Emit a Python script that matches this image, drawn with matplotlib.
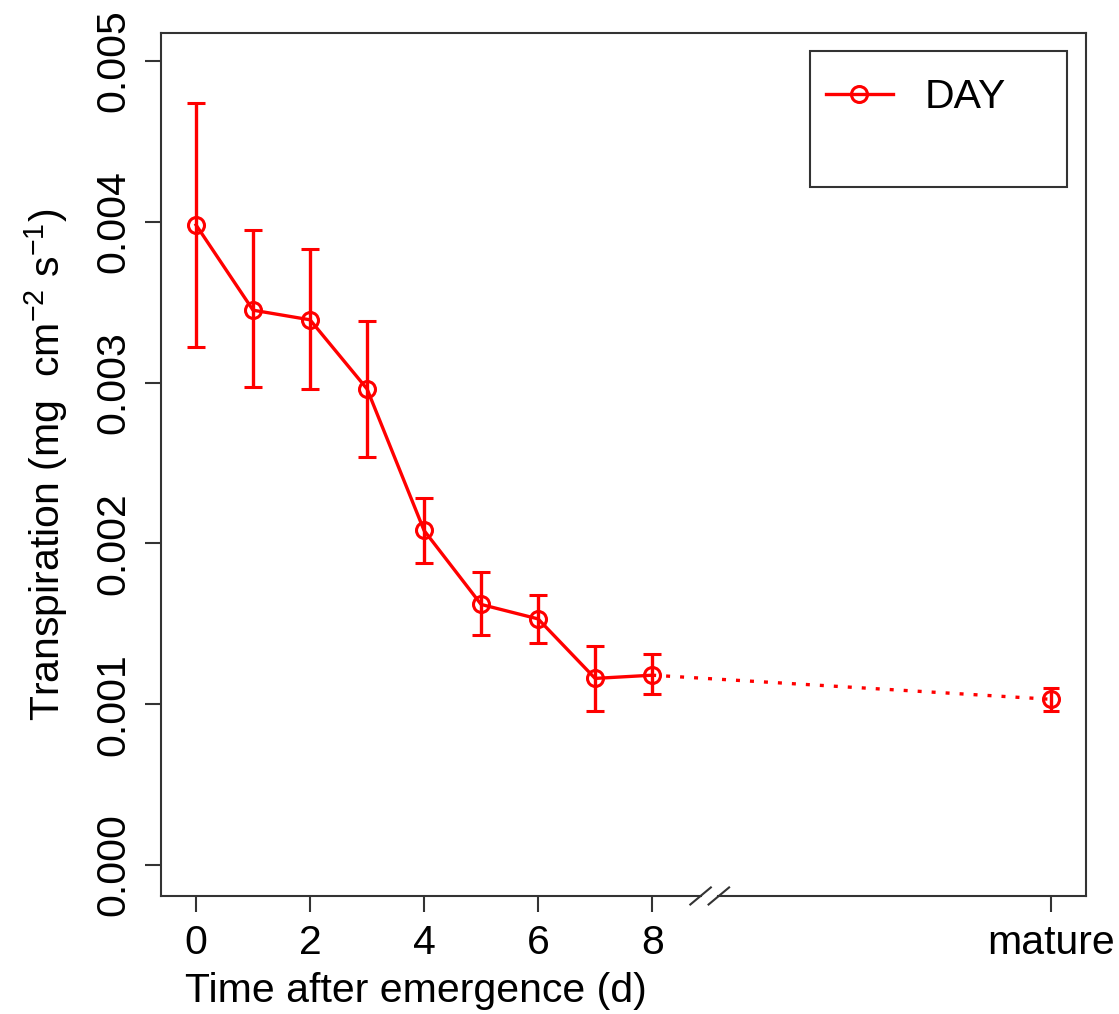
import numpy as np
import matplotlib
matplotlib.use("Agg")
import matplotlib.pyplot as plt
import matplotlib.transforms as mtransforms
from matplotlib.patches import Rectangle
from matplotlib.lines import Line2D

# values
days = [0, 1, 2, 3, 4, 5, 6, 7, 8]
transp = [0.00398, 0.00345, 0.00339, 0.00296, 0.00208, 0.00162, 0.00153, 0.00116, 0.00118]
err_top = [0.00474, 0.00395, 0.00383, 0.00338, 0.00228, 0.00182, 0.00168, 0.00136, 0.00131]
err_bot = [0.00322, 0.00297, 0.00296, 0.00254, 0.00188, 0.00143, 0.00138, 0.00096, 0.00106]

mature_x = 15
mature_val = 0.00103
mature_top = 0.00110
mature_bot = 0.00096

xticks = [0, 2, 4, 6, 8, 15]
xticklabels = ["0", "2", "4", "6", "8", "mature"]
yticks = [0.000, 0.001, 0.002, 0.003, 0.004, 0.005]
yticklabels = ["0.000", "0.001", "0.002", "0.003", "0.004", "0.005"]


def main():
    plt.rcParams["font.family"] = ["Liberation Sans", "DejaVu Sans"]
    plt.rcParams["mathtext.fontset"] = "custom"
    plt.rcParams["mathtext.rm"] = "Liberation Sans"
    plt.rcParams["mathtext.it"] = "Liberation Sans"
    plt.rcParams["mathtext.default"] = "rm"

    fs = 29.5
    red = "#ff0000"
    axcol = "#333333"
    lw = 2.4

    fig = plt.figure(figsize=(11.19, 10.14), dpi=100)
    ax = fig.add_axes([0.1439, 0.1164, 0.8266, 0.8511])

    y = np.array(transp)
    yerr = [y - np.array(err_bot), np.array(err_top) - y]
    ax.errorbar(days, transp, yerr=yerr, color=red, lw=lw, marker="o", ms=11.5,
                mfc="none", mec=red, mew=2.2, capsize=6.5, capthick=lw,
                elinewidth=lw, zorder=3)

    # dotted link to the mature point
    ax.plot([days[-1], mature_x], [transp[-1], mature_val], color=red, lw=lw,
            linestyle=(0, (1.2, 3.0)), zorder=2)
    ax.errorbar([mature_x], [mature_val],
                yerr=[[mature_val - mature_bot], [mature_top - mature_val]],
                color=red, marker="o", ms=11.5, mfc="none", mec=red, mew=2.2,
                capsize=6.0, capthick=lw, elinewidth=lw, lw=0, zorder=3)

    ax.set_xlim(-0.614, 15.61)
    ax.set_ylim(-0.000193, 0.005174)

    ax.set_xticks(xticks)
    ax.set_xticklabels(xticklabels)
    ax.set_yticks(yticks)
    ax.set_yticklabels(yticklabels, rotation=90, va="center")

    ax.tick_params(axis="both", length=11.5, width=1.5, color=axcol, labelsize=fs)
    ax.tick_params(axis="x", pad=9)
    ax.tick_params(axis="y", pad=9)

    for side in ["left", "top", "right"]:
        ax.spines[side].set_color(axcol)
        ax.spines[side].set_linewidth(1.5)
    ax.spines["bottom"].set_visible(False)

    # bottom spine with an axis break between 8 and mature
    trans = mtransforms.blended_transform_factory(ax.transData, ax.transAxes)
    xlo, xhi = ax.get_xlim()
    brk_l, brk_r = 8.86, 9.16
    ax.plot([xlo, brk_l], [0, 0], color=axcol, lw=1.5, transform=trans, clip_on=False)
    ax.plot([brk_r, xhi], [0, 0], color=axcol, lw=1.5, transform=trans, clip_on=False)
    for cx in [8.85, 9.17]:
        ax.plot([cx - 0.18, cx + 0.18], [-0.0099, 0.0099], color=axcol, lw=1.5,
                transform=trans, clip_on=False)

    ax.set_xlabel("Time after emergence (d)", fontsize=fs)
    ax.xaxis.set_label_coords(0.2757, -0.088)
    ax.set_ylabel(r"Transpiration (mg  cm$^{-2}$ s$^{-1}$)", fontsize=fs)
    ax.yaxis.set_label_coords(-0.098, 0.5)

    # legend box, larger than its single entry
    ax.add_patch(Rectangle((0.7016, 0.8216), 0.2779, 0.1575, transform=ax.transAxes,
                           fill=False, edgecolor=axcol, lw=1.5, zorder=4))
    handle = Line2D([], [], color=red, lw=lw, marker="o", ms=11.5, mfc="none",
                    mec=red, mew=2.2)
    ax.legend([handle], ["DAY"], loc="center left", bbox_to_anchor=(0.719, 0.9258),
              frameon=False, fontsize=fs, handlelength=1.63, handletextpad=0.78,
              borderpad=0, borderaxespad=0)

    fig.savefig("out.png", dpi=100)


if __name__ == "__main__":
    main()
